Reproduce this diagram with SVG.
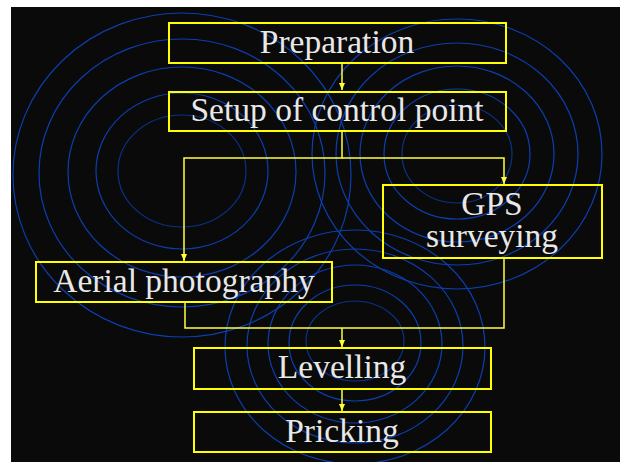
<svg xmlns="http://www.w3.org/2000/svg" width="624" height="462" viewBox="0 0 624 462">
  <style>
    .ring { fill: none; stroke: #0c3fae; stroke-width: 1.2; }
    .ring.inner { stroke: #0a3288; }
    .box { fill: none; stroke: #ffff00; stroke-width: 2; }
    .lbl { font-family: "Liberation Serif", "Times New Roman", serif; font-size: 33.5px; fill: #e8e8e8; text-anchor: middle; }
    .conn { fill: none; stroke: #ffff40; stroke-width: 1.5; }
  </style>
  <defs>
    <marker id="arr" markerUnits="userSpaceOnUse" markerWidth="8" markerHeight="8" refX="7" refY="4" orient="auto">
      <path d="M0,1 L7,4 L0,7 Z" fill="#ffff40"/>
    </marker>
  </defs>
  <rect x="0" y="0" width="624" height="462" fill="#ffffff"/>
  <rect x="11" y="7" width="609" height="455" fill="#0a0a0a"/>

  <g id="ripples">
    <!-- left group -->
    <ellipse class="ring inner" cx="182" cy="171" rx="64" ry="56"/>
    <ellipse class="ring" cx="182" cy="171" rx="86" ry="78"/>
    <ellipse class="ring" cx="182" cy="172" rx="114" ry="105"/>
    <ellipse class="ring" cx="182" cy="173" rx="143" ry="134"/>
    <ellipse class="ring" cx="182" cy="175" rx="169" ry="162"/>
    <!-- right group -->
    <ellipse class="ring inner" cx="457" cy="154" rx="55" ry="49"/>
    <ellipse class="ring" cx="457" cy="154" rx="73" ry="65"/>
    <ellipse class="ring" cx="457" cy="154" rx="97" ry="88"/>
    <ellipse class="ring" cx="457" cy="154" rx="121" ry="111"/>
    <ellipse class="ring" cx="457" cy="154" rx="145" ry="135"/>
    <!-- bottom group -->
    <ellipse class="ring inner" cx="355" cy="341" rx="49" ry="40"/>
    <ellipse class="ring" cx="355" cy="343" rx="66" ry="58"/>
    <ellipse class="ring" cx="355" cy="344" rx="87" ry="79"/>
    <ellipse class="ring" cx="355" cy="346" rx="108" ry="97"/>
    <ellipse class="ring" cx="355" cy="347" rx="130" ry="117"/>
  </g>

  <g id="connectors">
    <path class="conn" d="M342,63 V90" marker-end="url(#arr)"/>
    <path class="conn" d="M342,131 V158 H184 V261" marker-end="url(#arr)"/>
    <path class="conn" d="M342,158 H504 V184" marker-end="url(#arr)"/>
    <path class="conn" d="M185,302 V328 H504 V258"/>
    <path class="conn" d="M342,328 V347" marker-end="url(#arr)"/>
    <path class="conn" d="M342,389 V411" marker-end="url(#arr)"/>
  </g>

  <g id="preparation">
    <rect class="box" x="169" y="23" width="337" height="40"/>
    <text class="lbl" x="337" y="52.5">Preparation</text>
  </g>
  <g id="setup">
    <rect class="box" x="169" y="92" width="337" height="39"/>
    <text class="lbl" x="337" y="121">Setup of control point</text>
  </g>
  <g id="gps">
    <rect class="box" x="383" y="185" width="219" height="73"/>
    <text class="lbl" x="492" y="215">GPS</text>
    <text class="lbl" x="492" y="246.5">surveying</text>
  </g>
  <g id="aerial">
    <rect class="box" x="36" y="262" width="296" height="40"/>
    <text class="lbl" x="184" y="291.5">Aerial photography</text>
  </g>
  <g id="levelling">
    <rect class="box" x="194" y="348" width="297" height="41"/>
    <text class="lbl" x="342" y="378">Levelling</text>
  </g>
  <g id="pricking">
    <rect class="box" x="194" y="412" width="297" height="40"/>
    <text class="lbl" x="342" y="441.5">Pricking</text>
  </g>
</svg>
